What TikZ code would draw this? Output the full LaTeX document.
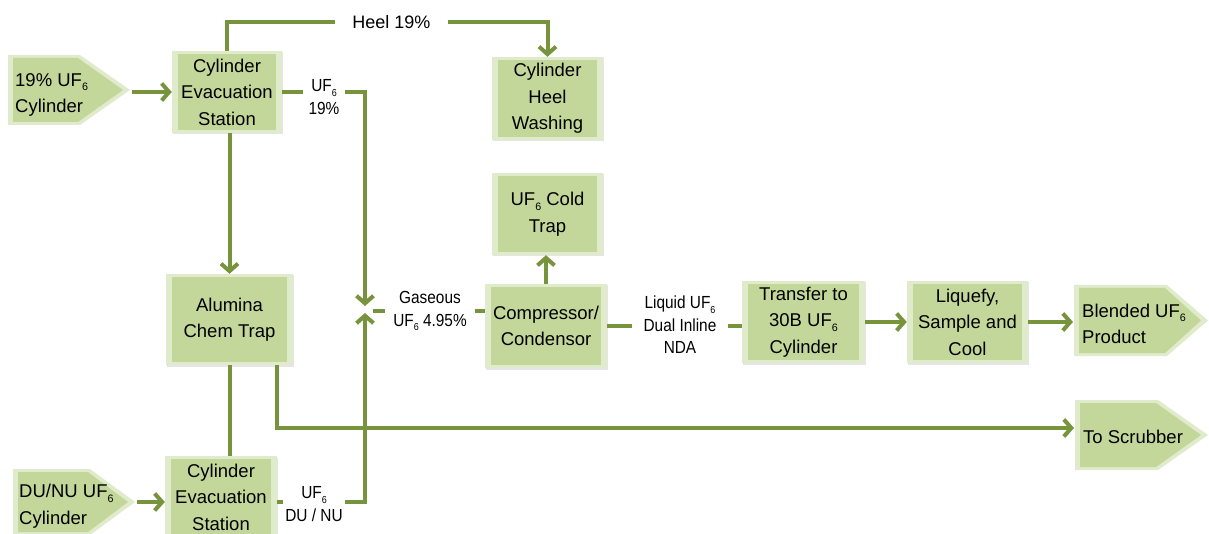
\documentclass[tikz,border=0pt]{standalone}
\usepackage{fontspec}
\setmainfont{Liberation Sans}
\newfontfamily\narrowfam{Liberation Sans}[FakeStretch=0.88]
\usetikzlibrary{arrows.meta,calc,shadows}
\definecolor{lineg}{HTML}{77933C}
\definecolor{boxin}{HTML}{C4D79B}
\definecolor{boxedge}{HTML}{E0EBCC}
\newcommand{\six}{\raisebox{-0.25em}{\scalebox{0.58}{6}}}
\newcommand{\bxfont}{\fontsize{18.5}{26.5}\selectfont}
\newcommand{\lbfont}{\narrowfam\fontsize{17.5}{22.5}\selectfont}
\newcommand{\hlfont}{\fontsize{18}{22}\selectfont}
\newcommand{\mypent}[5]{%
  \fill[boxedge] (#1,#4) -- (#2,#4) -- (#3,{(#4+#5)/2}) -- (#2,#5) -- (#1,#5) -- cycle;
  \fill[boxin] ({#1+5},{#4+3}) -- ({#2-2},{#4+3}) -- ({#3-7},{(#4+#5)/2}) -- ({#2-2},{#5-3}) -- ({#1+5},{#5-3}) -- cycle;}
\begin{document}
\begin{tikzpicture}[x=1pt,y=-1pt,
  flow/.style={draw=lineg,line width=4pt},
  arr/.style={flow,-{Straight Barb[length=7.5pt,width=17pt]}},
  box/.style={fill=boxedge,align=center,font=\bxfont,inner sep=0pt,
    drop shadow={shadow xshift=1pt,shadow yshift=-1.5pt,opacity=0.2},
    path picture={\fill[boxin] ([xshift=6pt,yshift=-3pt]path picture bounding box.north west) rectangle ([xshift=-6pt,yshift=3pt]path picture bounding box.south east);}},
  ptxt/.style={anchor=west,align=left,font=\bxfont,inner sep=2pt},
  lbl/.style={align=center,font=\lbfont,inner ysep=0pt}]
\useasboundingbox (0,0) rectangle (1209,534);
\fill[white] (0,0) rectangle (1209,534);
\clip (0,0) rectangle (1209,534);

% pentagons
\mypent{8}{80}{130}{55}{125}
\mypent{13}{90}{135}{469}{535}
\mypent{1074}{1167}{1208}{285}{356}
\mypent{1075}{1158}{1208}{400}{470}
\node[ptxt] (p1t) at (13,95) {19\% UF\six\\Cylinder};
\node[ptxt] (p2t) at (17,506) {DU/NU UF\six\\Cylinder};
\node[ptxt] (p3t) at (1080,324) {Blended UF\six\\Product};
\node[ptxt] (p4t) at (1081,437) {To Scrubber};
\coordinate (p1tip) at (132,92);
\coordinate (p2tip) at (137,502);
\coordinate (p3in) at (1073,322);
\coordinate (p4in) at (1074,428);
\coordinate (mtop) at (365,306);
\coordinate (mbot) at (365,313);
\coordinate (gasdash) at (373,311);

% boxes
\node[box,minimum width=110pt,minimum height=82pt] (ces1) at (227,92) {Cylinder\\Evacuation\\Station};
\node[box,minimum width=111pt,minimum height=83pt] (chw) at (547.5,98.5) {Cylinder\\Heel\\Washing};
\node[box,minimum width=111pt,minimum height=82pt] (cold) at (547.5,214) {UF\six{} Cold\\Trap};
\node[box,minimum width=127pt,minimum height=91pt] (alum) at (229.5,319.5) {Alumina\\Chem Trap};
\node[box,minimum width=122pt,minimum height=84pt] (comp) at (546,326) {Compressor/\\Condensor};
\node[box,minimum width=123pt,minimum height=82pt] (xfer) at (803.5,322) {Transfer to\\30B UF\six\\Cylinder};
\node[box,minimum width=121pt,minimum height=82pt] (liq) at (967.5,322) {Liquefy,\\Sample and\\Cool};
\node[box,minimum width=112pt,minimum height=82pt] (ces2) at (221,497) {Cylinder\\Evacuation\\Station};

% labels
\node[lbl,inner xsep=17pt,font=\hlfont] (heel) at (391.5,22) {Heel 19\%};
\node[lbl,inner xsep=5pt] (uf19) at (324,97) {UF\six\\19\%};
\node[lbl,inner xsep=8pt] (gas) at (430,311) {Gaseous\\UF\six{} 4.95\%};
\node[lbl,inner xsep=11pt] (liql) at (680,325) {Liquid UF\six\\Dual Inline\\NDA};
\node[lbl,inner xsep=2pt] (ufdu) at (314,504) {UF\six\\DU / NU};

% connectors
\draw[arr] (p1tip) -- (ces1.west);
\draw[flow] (ces1.north) |- (heel.west);
\draw[arr] (heel.east) -| (chw.north);
\draw[flow] (ces1.east) -- (uf19.west |- ces1.east);
\draw[arr] (uf19.east |- ces1.east) -| (mtop);
\draw[arr] (ces1.south -| alum.north) -- (alum.north);
\draw[flow] (alum.south) -- (alum.south |- ces2.north);
\draw[arr] ([xshift=47pt]alum.south) |- (p4in);
\draw[flow] (ces2.east |- p2tip) -- (ufdu.west |- p2tip);
\draw[arr] (ufdu.east |- p2tip) -| (mbot);
\draw[arr] (p2tip) -- (p2tip -| ces2.west);
\draw[flow] (gasdash) -- (gas.west);
\draw[flow] (gas.east) -- (gas.east -| comp.west);
\draw[arr] (comp.north) -- (comp.north |- cold.south);
\draw[flow] (comp.east) -- (comp.east -| liql.west);
\draw[flow] (liql.east |- comp.east) -- (comp.east -| xfer.west);
\draw[arr] (xfer.east) -- (liq.west);
\draw[arr] (liq.east) -- (p3in);
\end{tikzpicture}
\end{document}
